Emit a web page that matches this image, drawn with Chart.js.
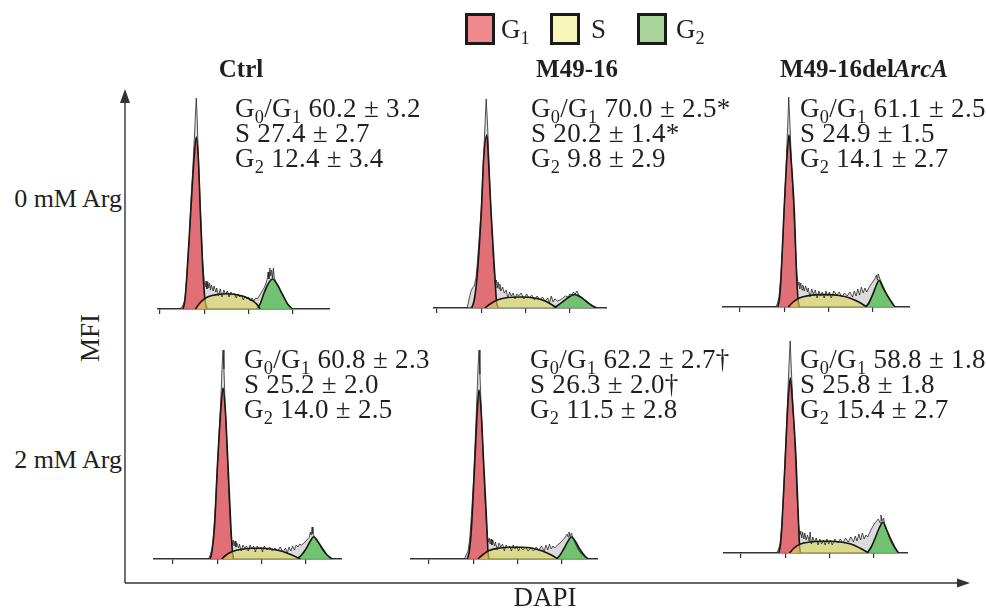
<!DOCTYPE html>
<html>
<head>
<meta charset="utf-8">
<script src="https://cdn.jsdelivr.net/npm/chart.js@4.4.1/dist/chart.umd.min.js"></script>
<style>
  body { margin: 0; background: #fff; }
  #fig { position: relative; width: 986px; height: 609px; overflow: hidden;
         font-family: "Liberation Serif", "Times New Roman", serif; color: #231f20; }
  #fig canvas { position: absolute; }
  .txt { position: absolute; white-space: nowrap; }
  .stats { font-size: 27px; line-height: 25px; letter-spacing: 0.3px; }
  sub { font-size: 0.68em; line-height: 0; vertical-align: baseline; position: relative; top: 0.32em; }
  .title { font-weight: bold; font-size: 25px; line-height: 28px; top: 55px; transform: translateX(-50%); }
  .row { font-size: 26px; line-height: 30px; left: 0; width: 122px; text-align: right; }
  .lgbox { position: absolute; top: 13px; width: 24px; height: 26px; border: 3px solid #1a1a1a; }
  .lgtxt { font-size: 27px; line-height: 30px; top: 14px; }
  svg { position: absolute; left: 0; top: 0; }
</style>
</head>
<body>
<div id="fig">
  <svg width="986" height="609">
    <line x1="125" y1="583" x2="125" y2="100" stroke="#333" stroke-width="1.4"/>
    <polygon points="125,89 120,103 130,103" fill="#333"/>
    <line x1="125" y1="583" x2="960" y2="583" stroke="#333" stroke-width="1.4"/>
    <polygon points="970,583 957,578.5 957,587.5" fill="#333"/>
  </svg>
</div>

<script>
// G0/G1, S, G2 percentages printed on each panel
const g1Stats = ["60.2 ± 3.2", "70.0 ± 2.5*", "61.1 ± 2.5", "60.8 ± 2.3", "62.2 ± 2.7†", "58.8 ± 1.8"];
const sStats = ["27.4 ± 2.7", "20.2 ± 1.4*", "24.9 ± 1.5", "25.2 ± 2.0", "26.3 ± 2.0†", "25.8 ± 1.8"];
const g2Stats = ["12.4 ± 3.4", "9.8 ± 2.9", "14.1 ± 2.7", "14.0 ± 2.5", "11.5 ± 2.8", "15.4 ± 2.7"];

const strains = ["Ctrl", "M49-16", "M49-16del<i>ArcA</i>"];
const argLevels = ["0 mM Arg", "2 mM Arg"];

// DAPI channel (x), cell count (y); panels: Ctrl/M49-16/delArcA at 0 mM, then at 2 mM
const g1Fit = [
  [[26,0],[28,8],[30,29],[34.6,96],[38.4,150],[41,172],[43.3,150],[45.6,96],[49,29],[51,8],[53,0]],
  [[39,0],[42,8],[45,29],[50,96],[52.7,150],[56.4,173],[58,150],[61,96],[65.5,29],[67,8],[69,0]],
  [[42.5,0],[44.5,8],[46.3,29],[49.7,96],[53,150],[55.3,172],[57.5,150],[61.3,96],[64,29],[65.5,8],[67,0]],
  [[42,0],[44,8],[46.6,29],[50.3,96],[54,150],[56.4,171],[59,150],[62,96],[65.5,29],[67,8],[68.4,0]],
  [[43.3,0],[45.5,8],[47.8,29],[51.6,96],[54.6,150],[56.4,169],[58.7,150],[61.7,96],[65.5,29],[66.5,8],[67.7,0]],
  [[42.4,0],[44.5,8],[46.3,29],[50,96],[53,150],[55.6,175],[58.2,150],[62,96],[65,29],[66,8],[67,0]]
];
const sFit = [
  [[40,0],[45,6],[50,10],[55,12.5],[65,14.5],[74,15.2],[85,14.5],[95,12.5],[103,9],[109,5],[113,0]],
  [[54,0],[60,4],[68,8],[80,10.5],[95,11],[110,10],[122,7],[130,3],[135,0]],
  [[54.5,0],[60,5],[67,9],[78,11.5],[90,12.4],[100,12.4],[112,11.5],[124,9],[134,5],[143,0]],
  [[55,0],[60,4],[67,7.5],[78,9.8],[90,10.7],[100,10.7],[112,9.8],[124,7.5],[134,4],[143.7,0]],
  [[55.3,0],[61,4.5],[68,8.5],[80,11],[92,11.7],[104,11.7],[116,11],[128,8],[138,4],[145.6,0]],
  [[54.8,0],[60,5],[67,9],[78,11],[90,11.7],[100,11.7],[112,11],[124,9],[134,5],[144,0]]
];
const g2Fit = [
  [[109,0],[113,5],[117,15],[122,25],[127,30],[132,25],[138,15],[144,5],[149.5,0]],
  [[131,0],[137,3],[143,7],[149,11],[155,13.5],[162,11],[168,7],[174,3],[180,0]],
  [[142,0],[146,5],[150,13],[154,22],[157,26.7],[161,20],[166,12],[171,5],[175,0]],
  [[140,0],[145,4],[150,10],[155,18],[158.7,22.3],[163,18],[169,10],[174,4],[179.5,0]],
  [[143.8,0],[148,4],[152,10],[157,18],[160.7,22.3],[165,18],[170,10],[175,4],[179.5,0]],
  [[142.2,0],[147,6],[151,14],[156,25],[160.3,30.7],[164,24],[169,14],[174,5],[178,0]]
];
const rawHist = [
  [[22,0],[25,2],[28,9],[30,30],[33,70],[35,110],[37,140],[39,175],[40,195],[41,211],[42,190],[43,160],[44.5,125],[46,92],[48,50],[50,27],[51,22],[52,28],[53,20],[54,27],[55,21],[56,26],[57,19],[58,24],[60,18],[61,23],[63,17],[64,21],[66,13],[68,20],[70,12],[72,19],[74,15],[76,18],[78,12],[80,17],[82,14],[84,16],[86,11],[88,15],[90,12],[92,14],[94,9],[96,13],[98,10],[100,12],[102,8],[104,11],[106,8],[108,11],[110,10],[112,13],[114,16],[116,19],[118,22],[120,27],[121,30],[122,37],[123,30],[124,41],[125,33],[126,39],[127,31],[128,41],[129,31],[130,29],[132,25],[135,20],[138,15],[141,10],[144,5],[147,2],[150,0]],
  [[34,0],[36,8],[38,16],[40,20],[42,22],[44,30],[46,50],[48,75],[50,100],[52,140],[54,180],[55.5,209],[57,185],[58.5,150],[60,115],[62,78],[64,42],[66,24],[67,28],[68,20],[69,26],[70,19],[71,24],[72,17],[74,21],[76,15],[78,18],[80,10],[82,16],[84,12],[86,15],[88,9],[90,14],[92,12],[95,15],[98,9],[101,14],[104,10],[107,13],[110,8],[113,12],[116,8],[119,11],[122,7],[125,10],[127,5],[129,12],[131,6],[133,9],[136,7],[139,8],[142,10],[145,12],[148,11],[150,14],[152,13],[154,16],[156,14],[158,17],[160,13],[163,11],[166,8],[170,5],[175,2],[180,0]],
  [[40,0],[42,3],[44,10],[46,30],[48,60],[50,100],[52,140],[54,185],[55,210],[56.5,180],[58,145],[60,110],[62,70],[64,35],[65.5,22],[66.5,25],[67.5,18],[68.5,24],[70,17],[71,22],[72.5,16],[74,21],[76,15],[77,19],[79,10],[81,18],[83,13],[85,17],[87,9],[89,16],[91,11],[93,15],[95,9],[97,16],[99,11],[101,15],[103,9],[106,16],[109,12],[112,15],[115,10],[118,14],[121,11],[124,15],[127,10],[129,16],[131,11],[133,18],[135,12],[137,20],[139,14],[141,19],[143,15],[146,20],[149,24],[152,28],[154,32],[155,27],[156,33],[158,28],[160,24],[163,18],[166,12],[170,6],[173,2],[176,0]],
  [[40,0],[42,4],[44,10],[46,28],[48,55],[50,90],[52,125],[54,160],[55.5,195],[56.5,209],[57.5,190],[59,150],[61,110],[63,65],[65,30],[66,20],[67,14],[68,19],[69,13],[70,18],[71,12],[72,16],[74,11],[75,15],[77,8],[79,14],[81,11],[83,13],[85,8],[87,14],[89,10],[91,13],[93,7],[95,13],[97,10],[99,12],[101,7],[103,13],[106,9],[109,12],[112,8],[115,11],[118,8],[121,12],[124,7],[127,11],[129,6],[131,12],[133,8],[135,13],[137,9],[139,14],[141,12],[143,15],[145,14],[148,16],[150,18],[152,20],[154,22],[155,27],[156,24],[157,32],[158,25],[160,22],[162,20],[165,15],[168,10],[172,5],[176,2],[180,0]],
  [[40,0],[42,4],[44,8],[46,20],[48,45],[50,75],[52,115],[54,160],[55.5,195],[56.5,209],[57.5,185],[59,150],[61,105],[63,65],[65,30],[66,22],[67,17],[68,21],[69,15],[70,20],[71,14],[72,19],[74,13],[75,17],[77,9],[79,16],[81,12],[83,15],[85,8],[87,14],[89,11],[91,13],[93,8],[95,14],[97,10],[99,13],[101,8],[103,12],[106,9],[109,12],[112,8],[115,11],[118,8],[121,12],[124,9],[127,13],[130,8],[132,14],[134,9],[136,15],[138,10],[140,13],[142,11],[145,14],[148,16],[151,19],[154,22],[156,25],[157,22],[158,27],[159,23],[161,26],[162,21],[165,16],[168,10],[172,5],[176,2],[180,0]],
  [[40,0],[42,3],[44,9],[46,28],[48,60],[50,98],[52,140],[54,185],[55.5,212],[57,180],[59,140],[61,105],[63,60],[65,28],[66.5,18],[67.5,22],[68.5,15],[69.5,21],[71,14],[72,20],[73.5,13],[75,18],[77,12],[78,21],[79.5,9],[81,16],[83,11],[85,15],[87,8],[89,14],[91,9],[93,13],[95,8],[97,14],[99,9],[101,13],[103,8],[106,14],[109,10],[112,14],[115,10],[118,15],[121,11],[124,16],[127,11],[129,17],[131,12],[133,19],[135,13],[137,20],[139,14],[141,18],[143,16],[146,22],[149,27],[152,31],[155,34],[157,30],[158,38],[159,32],[161,35],[162,29],[164,24],[167,16],[170,10],[174,4],[178,0]]
];

// where each small histogram sits on the page
const panels = [
  { left: 157, width: 173, base: 309, tick0: 160, textX: 235 },
  { left: 433, width: 174, base: 308, tick0: 437, textX: 531 },
  { left: 722, width: 188, base: 307, tick0: 740, textX: 800 },
  { left: 153, width: 189, base: 559, tick0: 173, textX: 244 },
  { left: 410, width: 188, base: 559, tick0: 429, textX: 530 },
  { left: 723, width: 185, base: 553, tick0: 741, textX: 800 }
];
const PX_PER_UNIT = 0.886;
const PLOT_H = 230;
const TICK_LEN = 5;

const fig = document.getElementById("fig");
const pts = (arr) => arr.map((p) => ({ x: p[0], y: p[1] }));

const addText = (cls, html, style) => {
  const d = document.createElement("div");
  d.className = "txt " + cls;
  d.innerHTML = html;
  Object.assign(d.style, style);
  fig.appendChild(d);
  return d;
};

panels.forEach((p, i) => {
  const cv = document.createElement("canvas");
  cv.width = p.width;
  cv.height = PLOT_H + TICK_LEN;
  cv.style.left = p.left + "px";
  cv.style.top = p.base - PLOT_H + "px";
  fig.appendChild(cv);

  const xmin = (p.left - p.tick0) / PX_PER_UNIT;
  const xmax = xmin + p.width / PX_PER_UNIT;
  const fit = (data, color, order) => ({
    data: pts(data),
    fill: "origin",
    backgroundColor: color,
    borderColor: "#151515",
    borderWidth: 1.6,
    cubicInterpolationMode: "monotone",
    pointRadius: 0,
    order: order,
  });

  // lower order is drawn on top: the S fit is see-through so it turns orange over G1
  new Chart(cv, {
    type: "line",
    data: {
      datasets: [
        { data: pts(rawHist[i]), fill: "origin", backgroundColor: "rgba(165,165,165,0.4)",
          borderWidth: 0, pointRadius: 0, tension: 0, order: 4 },
        fit(g2Fit[i], "rgba(104,192,104,0.92)", 3),
        fit(g1Fit[i], "rgba(226,100,108,0.9)", 2),
        fit(sFit[i], "rgba(218,216,92,0.6)", 1),
        { data: pts(rawHist[i]), fill: false, borderColor: "rgba(30,30,30,0.85)",
          borderWidth: 0.9, pointRadius: 0, tension: 0, order: 0 },
      ],
    },
    options: {
      responsive: false,
      animation: false,
      devicePixelRatio: 1,
      events: [],
      layout: { padding: 0 },
      plugins: { legend: { display: false }, tooltip: { enabled: false } },
      scales: {
        x: {
          type: "linear",
          min: xmin,
          max: xmax,
          ticks: { display: false, stepSize: 50, includeBounds: false },
          grid: { drawOnChartArea: false, drawTicks: true, tickLength: TICK_LEN, color: "#333", lineWidth: 1.2 },
          border: { display: true, color: "#333", width: 1.6 },
        },
        y: { display: false, min: 0, max: PLOT_H },
      },
    },
  });

  const top = i < 3 ? 96 : 347;
  addText("stats",
    "G<sub>0</sub>/G<sub>1</sub> " + g1Stats[i] + "<br>S " + sStats[i] + "<br>G<sub>2</sub> " + g2Stats[i],
    { left: p.textX + "px", top: top + "px" });
});

// column and row titles
[241, 577, 864].forEach((cx, i) => addText("title", strains[i], { left: cx + "px" }));
addText("row", argLevels[0], { top: "184px" });
addText("row", argLevels[1], { top: "445px" });

// axis names
addText("", "MFI", { left: "90px", top: "338px", fontSize: "27px", transform: "translate(-50%,-50%) rotate(-90deg)" });
addText("", "DAPI", { left: "545px", top: "597px", fontSize: "27px", transform: "translate(-50%,-50%)" });

// legend
const legendItems = [
  { box: 465, txt: 501, color: "#f08a8e", label: "G<sub>1</sub>" },
  { box: 550, txt: 591, color: "#f8f5b8", label: "S" },
  { box: 637, txt: 676, color: "#a8d49a", label: "G<sub>2</sub>" },
];
legendItems.forEach((it) => {
  const b = document.createElement("div");
  b.className = "lgbox";
  b.style.left = it.box + "px";
  b.style.background = it.color;
  fig.appendChild(b);
  addText("lgtxt", it.label, { left: it.txt + "px" });
});
</script>
</body>
</html>
